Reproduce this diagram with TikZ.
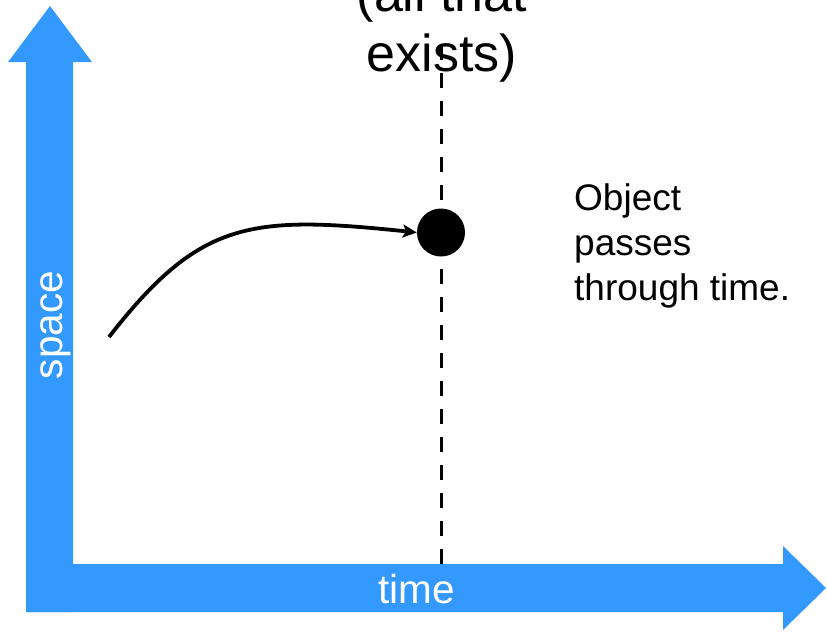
\documentclass[tikz,border=0pt]{standalone}
\usepackage{fontspec}
\setmainfont{Liberation Sans}
\usetikzlibrary{arrows.meta}
\definecolor{axisblue}{HTML}{3399FF}
\begin{document}
\begin{tikzpicture}[x=1pt,y=-1pt,
  axisfill/.style={fill=axisblue,draw=none},
  axislabel/.style={text=white,font=\fontsize{40.5}{48}\selectfont,inner sep=0pt},
  bigtext/.style={font=\fontsize{52}{60}\selectfont,align=center,inner sep=0pt},
  notetext/.style={font=\fontsize{37}{45}\selectfont,align=left,inner sep=0pt},
  dashline/.style={line width=3.5pt,dash pattern=on 15pt off 13pt},
  pathline/.style={line width=3.8pt,-{Stealth[length=14pt,width=13pt,inset=3pt]}},
  dotstyle/.style={circle,fill=black,minimum size=48pt,inner sep=0pt}]
\useasboundingbox (0,0) rectangle (827,632);
\fill[axisfill] (26,612) -- (26,62) -- (8,62) -- (50,6) -- (92,62) -- (73,62) -- (73,612) -- cycle;
\fill[axisfill] (28,612) -- (28,564) -- (783,564) -- (783,546) -- (826,588) -- (783,630) -- (783,612) -- cycle;
\node[axislabel,rotate=90,anchor=base] (spacelbl) at (62.7,325) {space};
\node[axislabel,anchor=base] (timelbl) at (416.5,603) {time};
\node[bigtext,anchor=base] (alltext) at (442,71) {(all that\\exists)};
\node[notetext,anchor=base west] (note) at (574,300) {Object\\passes\\through time.};
\coordinate (dtop) at (441.5,45);
\coordinate (dbot) at (441.5,564);
\draw[dashline] (dtop) -- (dbot);
\node[dotstyle] (dot) at (441,232.5) {};
\coordinate (start) at (109,337);
\draw[pathline] (start) .. controls (200,220) and (250,215) .. (dot.west);
\end{tikzpicture}
\end{document}
